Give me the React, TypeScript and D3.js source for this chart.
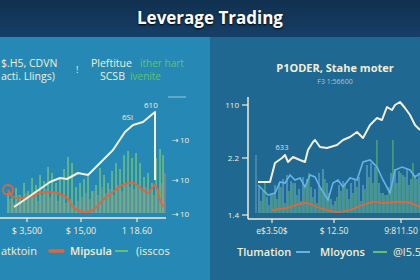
import React from "react";
import * as d3 from "d3";

// ---------- data ----------
const leftLineX = [9, 25, 45, 55, 62, 73, 83, 95, 108, 120, 128, 138, 150, 150];
const leftLineY = [6, 17, 31, 35, 34, 40, 38, 50, 63, 81, 88, 91, 101, 33];

const leftRedX = [3, 8, 15, 25, 35, 45, 52, 62, 68, 78, 88, 98, 108, 118, 128, 138, 143, 150, 155, 158];
const leftRedY = [23, 16, 15, 16, 20, 21, 20, 15, 6, 1, 3, 13, 21, 28, 30, 23, 20, 28, 13, 6];

const leftBarX = [3, 7, 11, 15, 19, 23, 27, 31, 35, 39, 43, 47, 51, 55, 59, 63, 67, 71, 75, 79, 83, 87, 91, 95, 99, 103, 107, 111, 115, 119, 123, 127, 131, 135, 139, 143, 147, 151, 155, 158];
const leftGreen = [20, 15, 25, 18, 30, 22, 35, 28, 38, 32, 46, 40, 30, 36, 44, 56, 50, 26, 30, 34, 40, 22, 28, 45, 38, 30, 42, 50, 44, 58, 62, 55, 60, 50, 36, 40, 30, 55, 64, 58];
const leftRed = [14, 10, 18, 12, 20, 15, 22, 12, 18, 24, 16, 20, 12, 18, 10, 14, 8, 12, 16, 20, 14, 22, 18, 26, 20, 24, 18, 28, 22, 30, 26, 24, 28, 22, 26, 20, 18, 24, 30, 40];

const leftTickX = [22, 76, 132];
const leftTickLabels = ["$ 3,500", "$ 15,00", "1 18.60"];
const leftSideY = [73, 33, -1];
const leftSideLabels = ["10", "10", "10"];

const rightLineX = [1, 13, 18, 25, 28, 31, 36, 43, 48, 51, 56, 58, 63, 70, 80, 86, 93, 100, 106, 113, 120, 125, 128, 130, 135, 138, 143, 148, 153, 158, 163];
const rightLineY = [31, 31, 50, 55, 58, 51, 56, 53, 51, 63, 71, 73, 66, 65, 68, 73, 76, 81, 75, 88, 95, 93, 101, 106, 103, 108, 111, 105, 98, 88, 83];

const rightBlueX = [1, 3, 11, 18, 23, 28, 33, 38, 43, 48, 53, 58, 63, 68, 71, 76, 81, 86, 93, 100, 106, 113, 120, 126, 133, 138, 145, 153, 158, 163];
const rightBlueY = [28, 26, 18, 20, 31, 30, 38, 33, 35, 26, 38, 36, 26, 18, 13, 30, 33, 26, 35, 33, 51, 53, 46, 33, 20, 43, 46, 43, 36, 40];

const rightRedX = [15, 30, 48, 63, 80, 93, 106, 116, 126, 140, 153, 163];
const rightRedY = [3, 5, 10, 5, 1, 3, 8, 11, 10, 11, 10, 6];

const rightBarX = [2, 6, 10, 14, 18, 22, 26, 30, 34, 38, 42, 46, 50, 54, 58, 62, 66, 70, 74, 78, 82, 86, 90, 94, 98, 102, 106, 110, 114, 118, 122, 126, 130, 134, 138, 142, 146, 150, 154, 158, 162];
const rightBlue = [26, 22, 16, 18, 28, 30, 34, 38, 32, 30, 24, 36, 34, 26, 24, 40, 44, 30, 14, 12, 28, 32, 24, 30, 34, 36, 28, 48, 50, 46, 30, 20, 18, 40, 44, 42, 38, 44, 34, 38, 40];
const rightGreen = [12, 30, 8, 20, 14, 26, 10, 22, 30, 18, 12, 28, 40, 16, 10, 24, 34, 20, 8, 16, 22, 30, 14, 20, 26, 12, 24, 36, 30, 73, 20, 18, 26, 73, 30, 40, 36, 28, 50, 34, 76];

const rightTickY = [108, 55, -2];
const rightTickLabels = ["110", "2.2", "1.4"];
const rightXTicks = [15, 77, 144];
const rightXLabels = ["e$3.50$", "$ 12.50", "9:811.50"];

const CREAM = "#f4eed6";
const GREEN = "#62c26a";
const RED = "#e0663c";
const BLUE = "#67b3e6";
const FONT = "'Open Sans', 'DejaVu Sans', sans-serif";

export default function App() {
  const W = 420, H = 280;

  // left panel scales
  const lx = d3.scaleLinear().domain([0, 160]).range([5, 165]);
  const ly = d3.scaleLinear().domain([0, 113]).range([213, 100]);
  // right panel scales
  const rx = d3.scaleLinear().domain([0, 163]).range([257, 420]);
  const ry = d3.scaleLinear().domain([0, 113]).range([213, 100]);

  const lineL = d3.line<number>().x((_, i) => lx(leftLineX[i])).y((d) => ly(d)).curve(d3.curveLinear);
  const redL = d3.line<number>().x((_, i) => lx(leftRedX[i])).y((d) => ly(d)).curve(d3.curveCatmullRom);
  const lineR = d3.line<number>().x((_, i) => rx(rightLineX[i])).y((d) => ry(d)).curve(d3.curveLinear);
  const blueR = d3.line<number>().x((_, i) => rx(rightBlueX[i])).y((d) => ry(d)).curve(d3.curveLinear);
  const redR = d3.line<number>().x((_, i) => rx(rightRedX[i])).y((d) => ry(d)).curve(d3.curveCatmullRom);

  return (
    <svg width={W} height={H} style={{ position: "absolute", left: 0, top: 0 }} fontFamily={FONT}>
      <defs>
        <clipPath id="lp"><rect x={0} y={36} width={210} height={244} /></clipPath>
        <clipPath id="rp"><rect x={210} y={36} width={210} height={244} /></clipPath>
        <linearGradient id="tb" x1="0" y1="0" x2="0" y2="1">
          <stop offset="0" stopColor="#10304f" />
          <stop offset="1" stopColor="#173f66" />
        </linearGradient>
      </defs>
      <rect x={0} y={0} width={W} height={37} fill="url(#tb)" />
      <rect x={0} y={37} width={210} height={243} fill="#2689b5" />
      <rect x={210} y={37} width={210} height={243} fill="#1e6891" />
      <text x={210} y={24} textAnchor="middle" fill="#ffffff" fontSize={17} fontWeight={700}
        style={{ textShadow: "0 1px 2px #000" }}>Leverage Trading</text>

      {/* ---------- left panel ---------- */}
      <g clipPath="url(#lp)">
        <text x={1} y={67} fill={CREAM} fontSize={10.5}>$.H5, CDVN</text>
        <text x={1} y={80} fill={CREAM} fontSize={10.5}>acti. Llings)</text>
        <text x={76} y={73} fill={CREAM} fontSize={9}>!</text>
        <text x={91} y={67} fill={CREAM} fontSize={10.5}>Pleftitue</text>
        <text x={140} y={67} fill={GREEN} fontSize={10}>ither hart</text>
        <text x={100} y={80} fill={CREAM} fontSize={10.5}>SCSB</text>
        <text x={130} y={80} fill={GREEN} fontSize={10}>ivenite</text>
        <line x1={168} x2={186} y1={97} y2={97} stroke="#cfe3ee" strokeWidth={1} opacity={0.7} />

        {leftBarX.map((x, i) => (
          <rect key={"lg" + i} x={lx(x) - 0.8} y={ly(leftGreen[i])} width={1.7}
            height={ly(0) - ly(leftGreen[i])} fill="#78c77a" opacity={0.8} />
        ))}
        {leftBarX.map((x, i) => (
          <rect key={"lr" + i} x={lx(x) + 1.2} y={ly(leftRed[i])} width={1.4}
            height={ly(0) - ly(leftRed[i])} fill="#d98a7a" opacity={0.55} />
        ))}
        <path d={redL(leftRedY) || ""} fill="none" stroke={RED} strokeWidth={2} />
        <circle cx={8} cy={190} r={5} fill="none" stroke={RED} strokeWidth={1.8} />
        <path d={lineL(leftLineY) || ""} fill="none" stroke={CREAM} strokeWidth={2} strokeLinejoin="round" />
        <text x={122} y={120} fill={CREAM} fontSize={8}>6Si</text>
        <text x={144} y={108} fill={CREAM} fontSize={8}>610</text>

        {leftSideY.map((v, i) => (
          <g key={"ls" + i}>
            <text x={172} y={ly(v) + 3} fill={CREAM} fontSize={8}>→</text>
            <text x={180} y={ly(v) + 3} fill={CREAM} fontSize={8}>{leftSideLabels[i]}</text>
          </g>
        ))}
        <line x1={0} x2={166} y1={218} y2={218} stroke={CREAM} strokeWidth={1.5} />
        {leftTickX.map((v, i) => (
          <g key={"lt" + i}>
            <line x1={lx(v)} x2={lx(v)} y1={218} y2={222} stroke={CREAM} strokeWidth={1.2} />
            <text x={lx(v)} y={234} textAnchor="middle" fill={CREAM} fontSize={9}>{leftTickLabels[i]}</text>
          </g>
        ))}
        <text x={1} y={255} fill={CREAM} fontSize={11}>atktoin</text>
        <line x1={50} x2={63} y1={251} y2={251} stroke={RED} strokeWidth={3.5} strokeLinecap="round" />
        <text x={70} y={255} fill={CREAM} fontSize={11} fontWeight={600}>Mipsula</text>
        <line x1={115} x2={128} y1={251} y2={251} stroke={GREEN} strokeWidth={2} />
        <text x={136} y={255} fill={CREAM} fontSize={11}>(isscos</text>
      </g>

      {/* ---------- right panel ---------- */}
      <g clipPath="url(#rp)">
        <text x={335} y={72} textAnchor="middle" fill={CREAM} fontSize={11} fontWeight={700}>P1ODER, Stahe moter</text>
        <text x={335} y={84} textAnchor="middle" fill="#a9c6d8" fontSize={7}>F3 1:56600</text>

        {rightBarX.map((x, i) => (
          <rect key={"rb" + i} x={rx(x) - 0.8} y={ry(rightBlue[i])} width={1.6}
            height={ry(0) - ry(rightBlue[i])} fill="#7cb6de" opacity={0.6} />
        ))}
        {rightBarX.map((x, i) => (
          <rect key={"rg" + i} x={rx(x) + 1.2} y={ry(rightGreen[i])} width={1.4}
            height={ry(0) - ry(rightGreen[i])} fill="#5bb665" opacity={0.8} />
        ))}
        <line x1={256} x2={256} y1={155} y2={213} stroke="#a9c7d6" strokeWidth={1} opacity={0.6} />
        <path d={redR(rightRedY) || ""} fill="none" stroke={RED} strokeWidth={1.8} />
        <path d={blueR(rightBlueY) || ""} fill="none" stroke={BLUE} strokeWidth={1.6} />
        <path d={lineR(rightLineY) || ""} fill="none" stroke={CREAM} strokeWidth={2} strokeLinejoin="round" />
        <text x={282} y={150} textAnchor="middle" fill="#d8e6ee" fontSize={7.5}>633</text>

        <line x1={248} x2={248} y1={97} y2={219} stroke={CREAM} strokeWidth={1.5} />
        <line x1={248} x2={420} y1={219} y2={219} stroke={CREAM} strokeWidth={1.5} />
        {rightTickY.map((v, i) => (
          <g key={"rt" + i}>
            <line x1={242} x2={248} y1={ry(v)} y2={ry(v)} stroke={CREAM} strokeWidth={1.2} />
            <text x={239} y={ry(v) + 3} textAnchor="end" fill={CREAM} fontSize={8}>{rightTickLabels[i]}</text>
          </g>
        ))}
        {rightXTicks.map((v, i) => (
          <g key={"rx" + i}>
            <line x1={rx(v)} x2={rx(v)} y1={219} y2={223} stroke={CREAM} strokeWidth={1.2} />
            <text x={rx(v)} y={234} textAnchor="middle" fill={CREAM} fontSize={8.5}>{rightXLabels[i]}</text>
          </g>
        ))}
        <text x={237} y={256} fill={CREAM} fontSize={11} fontWeight={600}>Tlumation</text>
        <line x1={296} x2={310} y1={252} y2={252} stroke={BLUE} strokeWidth={2} />
        <text x={320} y={256} fill={CREAM} fontSize={11} fontWeight={600}>Mloyons</text>
        <line x1={373} x2={387} y1={252} y2={252} stroke={GREEN} strokeWidth={2} />
        <text x={393} y={256} fill={CREAM} fontSize={11}>@l5.5</text>
      </g>
    </svg>
  );
}
